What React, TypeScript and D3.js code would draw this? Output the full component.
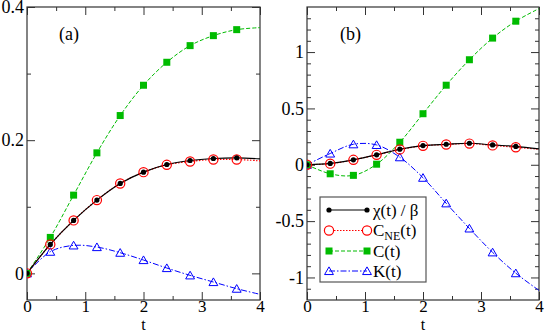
import React, { useEffect, useRef } from 'react';
import * as d3 from 'd3';

// time grid: markers at 0..3.6, lines run on to t = 4
const times = [0, 0.4, 0.8, 1.2, 1.6, 2.0, 2.4, 2.8, 3.2, 3.6, 4.0];

// panel (a)
const chiA = [0, 0.0435, 0.0795, 0.11, 0.135, 0.152, 0.1635, 0.1695, 0.1725, 0.1735, 0.172];
const cneA = [0, 0.0435, 0.0795, 0.11, 0.135, 0.152, 0.163, 0.168, 0.171, 0.171, 0.169];
const cA = [0, 0.054, 0.1175, 0.181, 0.237, 0.2825, 0.317, 0.342, 0.357, 0.366, 0.369];
const kA = [0, 0.0325, 0.042, 0.0395, 0.031, 0.02, 0.008, -0.003, -0.013, -0.023, -0.0315];

// panel (b)
const chiB = [0, 0.012, 0.044, 0.088, 0.138, 0.17, 0.182, 0.191, 0.176, 0.163, 0.141];
const cneB = [0, 0.01, 0.044, 0.088, 0.136, 0.168, 0.18, 0.188, 0.172, 0.155, 0.138];
const cB = [0, -0.08, -0.094, 0.005, 0.2, 0.453, 0.706, 0.932, 1.124, 1.274, 1.386];
const kB = [0, 0.1, 0.182, 0.176, 0.067, -0.115, -0.342, -0.565, -0.777, -0.962, -1.115];

const xTickLabels = [0, 1, 2, 3, 4];
const yTicksA = [0, 0.2, 0.4];
const yMinorA = [0.1, 0.3];
const yTicksB = [-1, -0.5, 0, 0.5, 1];

const FONT = '"Liberation Serif", "Times New Roman", serif';

const App = () => {
  const svgRef = useRef<SVGSVGElement>(null);

  useEffect(() => {
    const svg = d3.select(svgRef.current);
    svg.selectAll('*').remove();

    const panels = [
      {
        left: 27, right: 260, top: 7, bottom: 300,
        yDomain: [-0.04, 0.4], yTicks: yTicksA, yMinor: yMinorA,
        fmt: (d: number) => (d === 0 ? '0' : d3.format('.1f')(d)),
        label: '(a)', labelX: 59,
        chi: chiA, cne: cneA, c: cA, k: kA,
      },
      {
        left: 307, right: 539, top: 7, bottom: 300,
        yDomain: [-1.2, 1.4], yTicks: yTicksB,
        yMinor: d3.range(-11, 14).map((i) => i / 10).filter((v) => Math.abs((v * 10) % 5) > 0.01),
        fmt: (d: number) => String(d),
        label: '(b)', labelX: 340,
        chi: chiB, cne: cneB, c: cB, k: kB,
      },
    ];

    const xMinor = [0.5, 1.5, 2.5, 3.5];

    panels.forEach((p, pi) => {
      const x = d3.scaleLinear().domain([0, 4]).range([p.left, p.right]);
      const y = d3.scaleLinear().domain(p.yDomain).range([p.bottom, p.top]);
      const g = svg.append('g');

      const clipId = `clip${pi}`;
      svg.append('defs').append('clipPath').attr('id', clipId)
        .append('rect').attr('x', p.left).attr('y', p.top)
        .attr('width', p.right - p.left).attr('height', p.bottom - p.top);

      const styleAxis = (sel: any, labels: boolean, size = 18) => {
        sel.select('.domain').remove();
        sel.selectAll('line').attr('stroke', '#333').attr('stroke-width', 1);
        if (labels) {
          sel.selectAll('text').attr('font-family', FONT).attr('font-size', size).attr('fill', '#000');
        }
      };

      // x axes (bottom with labels, top ticks only)
      g.append('g').attr('transform', `translate(0,${p.bottom})`)
        .call(d3.axisBottom(x).tickValues(xTickLabels).tickSize(-8).tickPadding(0).tickFormat(d3.format('d')))
        .call((s) => styleAxis(s, true, 17));
      g.append('g').attr('transform', `translate(0,${p.bottom})`)
        .call(d3.axisBottom(x).tickValues(xMinor).tickSize(-4).tickFormat(() => ''))
        .call((s) => styleAxis(s, false));
      g.append('g').attr('transform', `translate(0,${p.top})`)
        .call(d3.axisTop(x).tickValues(xTickLabels).tickSize(-8).tickFormat(() => ''))
        .call((s) => styleAxis(s, false));
      g.append('g').attr('transform', `translate(0,${p.top})`)
        .call(d3.axisTop(x).tickValues(xMinor).tickSize(-4).tickFormat(() => ''))
        .call((s) => styleAxis(s, false));

      // y axes
      g.append('g').attr('transform', `translate(${p.left},0)`)
        .call(d3.axisLeft(y).tickValues(p.yTicks).tickSize(-8).tickPadding(3).tickFormat(p.fmt as any))
        .call((s) => styleAxis(s, true));
      g.append('g').attr('transform', `translate(${p.left},0)`)
        .call(d3.axisLeft(y).tickValues(p.yMinor).tickSize(-4).tickFormat(() => ''))
        .call((s) => styleAxis(s, false));
      g.append('g').attr('transform', `translate(${p.right},0)`)
        .call(d3.axisRight(y).tickValues(p.yTicks).tickSize(-8).tickFormat(() => ''))
        .call((s) => styleAxis(s, false));
      g.append('g').attr('transform', `translate(${p.right},0)`)
        .call(d3.axisRight(y).tickValues(p.yMinor).tickSize(-4).tickFormat(() => ''))
        .call((s) => styleAxis(s, false));

      // frame
      g.append('rect').attr('x', p.left).attr('y', p.top)
        .attr('width', p.right - p.left).attr('height', p.bottom - p.top)
        .attr('fill', 'none').attr('stroke', '#333').attr('stroke-width', 1.2);

      // x label
      g.append('text').attr('x', (p.left + p.right) / 2).attr('y', 329.5)
        .attr('text-anchor', 'middle').attr('font-family', FONT).attr('font-size', 16).text('t');

      // panel label
      g.append('text').attr('x', p.labelX).attr('y', 40)
        .attr('font-family', FONT).attr('font-size', 18).text(p.label);

      const line = d3.line<number>()
        .x((_, i) => x(times[i]))
        .y((d) => y(d))
        .curve(d3.curveCatmullRom.alpha(0.5));

      const plot = g.append('g').attr('clip-path', `url(#${clipId})`);
      plot.append('path').attr('d', line(p.k)).attr('fill', 'none')
        .attr('stroke', '#0000ff').attr('stroke-width', 1).attr('stroke-dasharray', '6,2,1.5,2');
      plot.append('path').attr('d', line(p.c)).attr('fill', 'none')
        .attr('stroke', '#00bb00').attr('stroke-width', 1).attr('stroke-dasharray', '4,2');
      plot.append('path').attr('d', line(p.cne)).attr('fill', 'none')
        .attr('stroke', '#ff0000').attr('stroke-width', 1.2).attr('stroke-dasharray', '1.5,1.5');
      plot.append('path').attr('d', line(p.chi)).attr('fill', 'none')
        .attr('stroke', '#000').attr('stroke-width', 1.2);

      const idx = d3.range(0, 10);
      const tri = d3.symbol().type(d3.symbolTriangle).size(34);

      plot.selectAll('.kmark').data(idx).join('path')
        .attr('transform', (i) => `translate(${x(times[i])},${y(p.k[i]) + 1})`)
        .attr('d', tri() as string).attr('fill', 'none').attr('stroke', '#0000ff').attr('stroke-width', 1);
      plot.selectAll('.cmark').data(idx).join('rect')
        .attr('x', (i) => x(times[i]) - 3.5).attr('y', (i) => y(p.c[i]) - 3.5)
        .attr('width', 7).attr('height', 7).attr('fill', '#00bb00');
      plot.selectAll('.nmark').data(idx).join('circle')
        .attr('cx', (i) => x(times[i])).attr('cy', (i) => y(p.cne[i]))
        .attr('r', 4.6).attr('fill', 'none').attr('stroke', '#ff0000').attr('stroke-width', 1.2);
      plot.selectAll('.xmark').data(idx).join('circle')
        .attr('cx', (i) => x(times[i])).attr('cy', (i) => y(p.chi[i]))
        .attr('r', 2.6).attr('fill', '#000');
    });

    // legend in panel (b)
    const lg = svg.append('g');
    lg.append('rect').attr('x', 320).attr('y', 197).attr('width', 106).attr('height', 85)
      .attr('fill', '#fff').attr('stroke', '#555').attr('stroke-width', 1.2);
    const rows = [
      { name: 'chi', y: 210 },
      { name: 'cne', y: 230.5 },
      { name: 'c', y: 251 },
      { name: 'k', y: 271 },
    ];
    const x0 = 329, x1 = 367;
    const tri = d3.symbol().type(d3.symbolTriangle).size(34);
    rows.forEach((r) => {
      const seg = lg.append('line').attr('x1', x0).attr('x2', x1).attr('y1', r.y).attr('y2', r.y);
      [x0, x1].forEach((mx) => {
        if (r.name === 'chi') lg.append('circle').attr('cx', mx).attr('cy', r.y).attr('r', 2.6).attr('fill', '#000');
        if (r.name === 'cne') lg.append('circle').attr('cx', mx).attr('cy', r.y).attr('r', 4.6)
          .attr('fill', 'none').attr('stroke', '#ff0000').attr('stroke-width', 1.2);
        if (r.name === 'c') lg.append('rect').attr('x', mx - 3.5).attr('y', r.y - 3.5).attr('width', 7).attr('height', 7).attr('fill', '#00bb00');
        if (r.name === 'k') lg.append('path').attr('transform', `translate(${mx},${r.y + 1})`).attr('d', tri() as string)
          .attr('fill', 'none').attr('stroke', '#0000ff').attr('stroke-width', 1);
      });
      if (r.name === 'chi') seg.attr('stroke', '#000').attr('stroke-width', 1.2);
      if (r.name === 'cne') seg.attr('stroke', '#ff0000').attr('stroke-width', 1.2).attr('stroke-dasharray', '1.5,1.5').attr('x1', x0 + 5).attr('x2', x1 - 5);
      if (r.name === 'c') seg.attr('stroke', '#00bb00').attr('stroke-width', 1).attr('stroke-dasharray', '4,2');
      if (r.name === 'k') seg.attr('stroke', '#0000ff').attr('stroke-width', 1).attr('stroke-dasharray', '6,2,1.5,2');
    });
    const txt = (yy: number) => lg.append('text').attr('x', 373).attr('y', yy + 5.5)
      .attr('font-family', FONT).attr('font-size', 17);
    txt(210).text('χ(t) / β');
    const t2 = txt(230.5);
    t2.append('tspan').text('C');
    t2.append('tspan').attr('font-size', 12).attr('dy', 4).text('NE');
    t2.append('tspan').attr('dy', -4).text('(t)');
    txt(251).text('C(t)');
    txt(271).text('K(t)');
  }, []);

  return (
    <svg ref={svgRef} width={545} height={333}
      style={{ position: 'absolute', left: 0, top: 0, background: '#fff' }} />
  );
};

export default App;
